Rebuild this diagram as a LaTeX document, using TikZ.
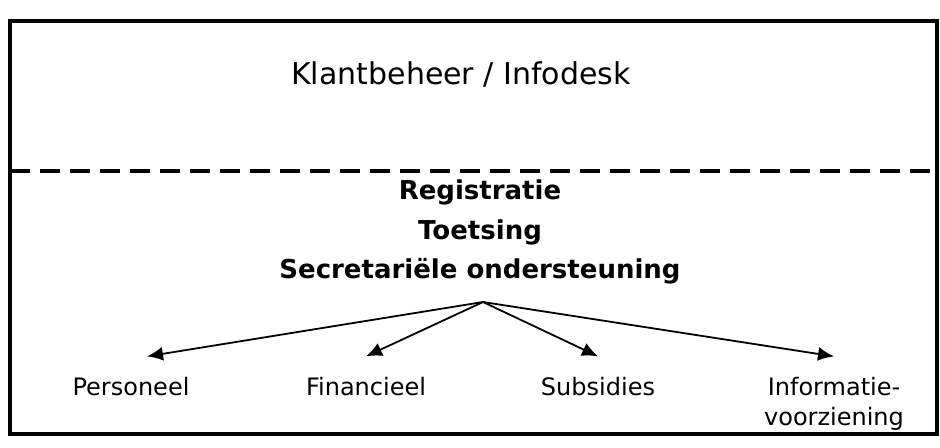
\documentclass[tikz,border=0pt]{standalone}
\usepackage{fontspec}
\setmainfont{DejaVu Sans}
\usetikzlibrary{arrows.meta}

\begin{document}
\begin{tikzpicture}[x=0.5pt,y=-0.5pt,>={Latex[length=8pt,width=7pt]},
  kop/.style={font=\fontsize{15}{18}\selectfont,inner sep=0pt,anchor=base},
  taak/.style={font=\bfseries\fontsize{13}{16}\selectfont,inner sep=0pt,anchor=base},
  afd/.style={font=\fontsize{12}{15}\selectfont,inner sep=0pt,anchor=base,align=center}]
  \useasboundingbox (0,0) rectangle (940,447);
  % frame with dashed split
  \draw[line width=1.7pt] (10,21) rectangle (937,434);
  \draw[line width=1.6pt,dash pattern=on 10pt off 5pt] (10,171) -- (937,171);
  \node[kop] (klant) at (461,84) {Klantbeheer / Infodesk};
  % tasks in the lower part
  \node[taak] (reg) at (480,199) {Registratie};
  \node[taak] (toets) at (480,239) {Toetsing};
  \node[taak] (secr) at (480,278) {Secretariële ondersteuning};
  \coordinate (hub) at (483,302);
  \node[afd] (pers) at (131,395) {Personeel};
  \node[afd] (fin) at (366,395) {Financieel};
  \node[afd] (subs) at (598,395) {Subsidies};
  \node[afd] (info) at (834,425) {Informatie-\\voorziening};
  \draw[line width=0.9pt,->] (hub) -- ([xshift=8pt,yshift=10pt]pers.north);
  \foreach \n in {fin,subs,info} {\draw[line width=0.9pt,->] (hub) -- ([yshift=10pt]\n.north);}
\end{tikzpicture}
\end{document}
